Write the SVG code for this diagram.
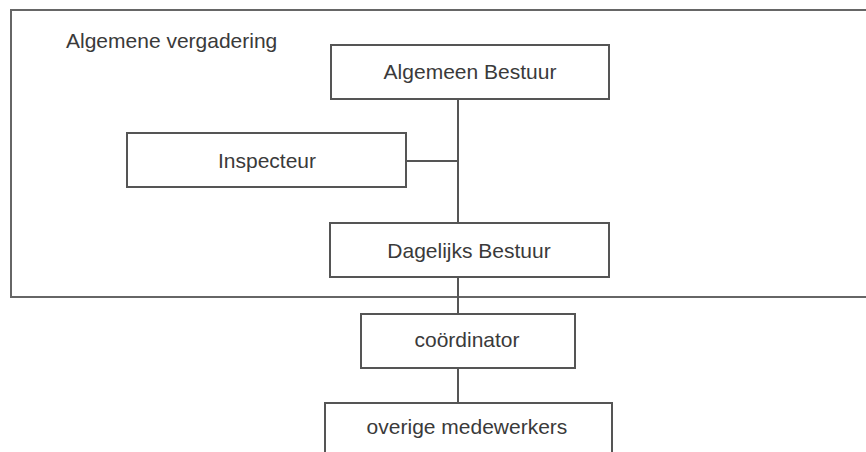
<svg xmlns="http://www.w3.org/2000/svg" width="866" height="452" viewBox="0 0 866 452">
<style>
.box{fill:#fff;stroke:#555;stroke-width:2}
.frame{fill:none;stroke:#666;stroke-width:2}
.lbl{font-family:"Liberation Sans",Arial,sans-serif;font-size:21px;fill:#3a3a3a;text-anchor:middle}
.conn{stroke:#555;stroke-width:2;fill:none}
</style>
<rect width="866" height="452" fill="#fff"/>
<g id="algemene-vergadering">
<path class="frame" d="M876 10 H11 V297 H876"/>
<text class="lbl" x="66" y="48" style="text-anchor:start">Algemene vergadering</text>
</g>
<g id="connectors">
<line class="conn" x1="458" y1="99" x2="458" y2="223"/>
<line class="conn" x1="406" y1="161" x2="458" y2="161"/>
<line class="conn" x1="458" y1="277" x2="458" y2="314"/>
<line class="conn" x1="458" y1="368" x2="458" y2="403"/>
</g>
<g id="algemeen-bestuur">
<rect class="box" x="331" y="45" width="278" height="54"/>
<text class="lbl" x="470" y="79">Algemeen Bestuur</text>
</g>
<g id="inspecteur">
<rect class="box" x="127" y="133" width="279" height="54"/>
<text class="lbl" x="267" y="168">Inspecteur</text>
</g>
<g id="dagelijks-bestuur">
<rect class="box" x="330" y="223" width="279" height="54"/>
<text class="lbl" x="469" y="258">Dagelijks Bestuur</text>
</g>
<g id="coordinator">
<rect class="box" x="361" y="314" width="214" height="54"/>
<text class="lbl" x="467" y="347">coördinator</text>
</g>
<g id="overige-medewerkers">
<path class="conn" d="M325 462 V403 H612 V462"/>
<text class="lbl" x="467" y="434">overige medewerkers</text>
</g>
</svg>
